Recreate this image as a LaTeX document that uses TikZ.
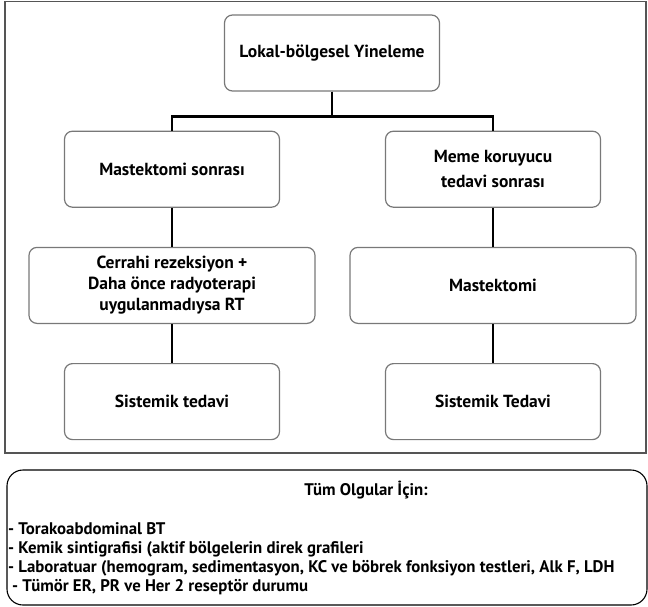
\documentclass[tikz,border=0pt]{standalone}
\usepackage{fontspec}
\setmainfont{PT Sans}
\usepackage{tikz}
\usetikzlibrary{positioning}
\usepackage{xcolor}
\definecolor{boxgray}{RGB}{120,120,120}
\definecolor{framegray}{RGB}{85,85,85}

\begin{document}
\begin{tikzpicture}[
  x=1pt, y=-1pt,
  node distance=39pt,
  cell/.style={rectangle, rounded corners=8pt, draw=boxgray, line width=1.2pt, minimum width=215pt, minimum height=76pt, inner sep=2pt, align=center, font=\fontsize{17.5}{21}\selectfont\bfseries},
  widecell/.style={cell, minimum width=286pt},
  link/.style={line width=2.6pt, black},
  allbox/.style={rectangle, rounded corners=16pt, draw=black, line width=1.1pt, minimum width=640pt, minimum height=135pt},
  lbl/.style={inner sep=0pt, align=left, font=\fontsize{16.8}{19}\selectfont\bfseries},
]
  \useasboundingbox (0,0) rectangle (648,607);
  \draw[framegray, line width=1.4pt] (5,1.5) rectangle (646,453);

  \node[cell] (recur) at (332,53) {Lokal-bölgesel Yineleme};
  \node[cell, below=39pt of recur, xshift=-160pt] (mast) {Mastektomi sonrası};
  \node[cell, below=39pt of recur, xshift=161pt] (bcs) {Meme koruyucu\\[4pt]tedavi sonrası};
  \node[widecell, below=of mast] (surg) {Cerrahi rezeksiyon +\\Daha önce radyoterapi\\uygulanmadıysa RT};
  \node[widecell, below=of bcs] (mastr) {Mastektomi};
  \node[cell, below=of surg] (sysl) {Sistemik tedavi};
  \node[cell, below=of mastr] (sysr) {Sistemik Tedavi};

  \draw[link] (recur.south) -- ++(0,25) -| (mast.north);
  \draw[link] (recur.south) -- ++(0,25) -| (bcs.north);
  \draw[link] (mast) -- (surg);
  \draw[link] (surg) -- (sysl);
  \draw[link] (bcs) -- (mastr);
  \draw[link] (mastr) -- (sysr);

  \node[allbox] (allcases) at (327,537.5) {};
  \node[lbl] (alltitle) at (366,490) {Tüm Olgular İçin:};
  \node[lbl, anchor=west] (alllist) at (8,558.5) {- Torakoabdominal BT\\- Kemik sintigrafisi (aktif bölgelerin direk grafileri\\- Laboratuar (hemogram, sedimentasyon, KC ve böbrek fonksiyon testleri, Alk F, LDH\\\hspace*{4pt}- Tümör ER, PR ve Her 2 reseptör durumu};
\end{tikzpicture}
\end{document}
